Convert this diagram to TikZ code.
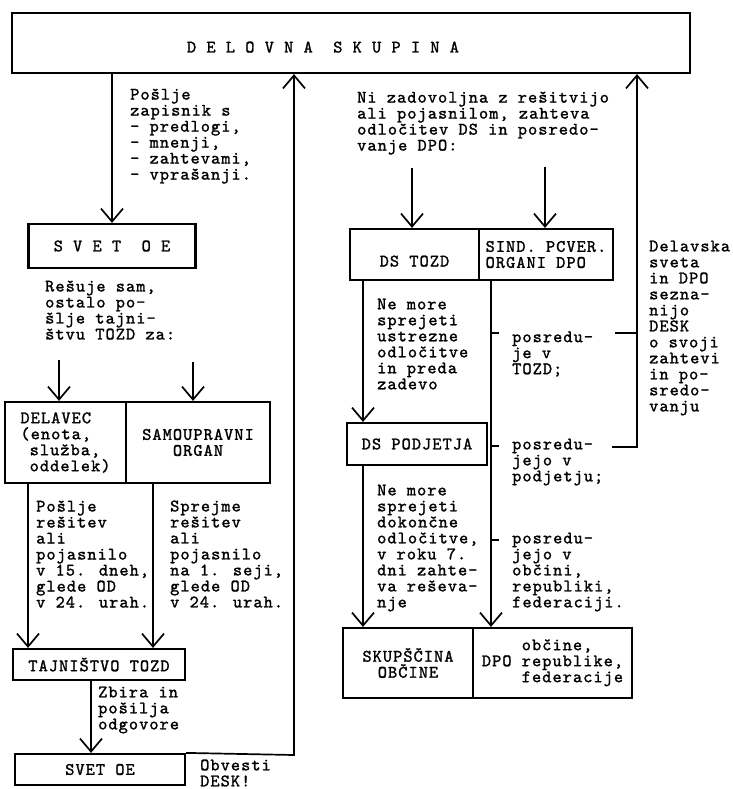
\documentclass[tikz,border=0pt]{standalone}
\usepackage{fontspec}
\newfontfamily\typew{lmmono10-regular.otf}[FakeBold=1.4, LetterSpace=6]
\usetikzlibrary{arrows.meta,positioning}

\tikzset{
  box/.style={draw, line width=2.2pt, inner sep=2pt},
  txt/.style={align=left, anchor=west, inner sep=0pt},
  ln/.style={line width=1.7pt},
  arr/.style={ln, -{Straight Barb[length=13pt,width=22pt]}},
}

\begin{document}
\begin{tikzpicture}[x=1pt, y=-1pt, every node/.style={font=\typew\fontsize{17.5}{16}\selectfont}]
\useasboundingbox (0,0) rectangle (732,789);

% boxes
\node (grp) [box, minimum width=678pt, minimum height=60pt] at (351,43) {\hspace*{-56pt}\raisebox{-9.5pt}[0pt][0pt]{D~E~L~O~V~N~A~~S~K~U~P~I~N~A}};
\node (svet1) [box, minimum width=167pt, minimum height=44pt] at (112,246) {S~V~E~T~~O~E};
\node (delavec) [box, align=left, minimum width=121pt, minimum height=81pt] at (65.5,442.5) {DELAVEC\\(enota,\\\phantom{(}služba,\\\phantom{(}oddelek)};
\node (samo) [box, align=center, minimum width=144pt, minimum height=81pt] at (198,442.5) {SAMOUPRAVNI\\ORGAN};
\node (tajn) [box, minimum width=172pt, minimum height=31pt] at (99,664.5) {TAJNIŠTVO TOZD};
\node (svet2) [box, minimum width=170pt, minimum height=31pt] at (100,769.5) {SVET OE};

\node (dstozd) [box, minimum width=129pt, minimum height=51pt] at (414.5,254.5) {\raisebox{-12pt}[0pt][0pt]{DS TOZD}};
\node (sind) [box, align=left, minimum width=134pt, minimum height=51pt] at (546,254.5) {SIND. PCVER.\\ORGANI DPO};
\node (dspod) [box, minimum width=140pt, minimum height=42pt] at (417,444) {DS PODJETJA};
\node (skup) [box, align=center, minimum width=130pt, minimum height=70pt] at (408,663) {SKUPŠČINA\\OBČINE};
\node (dpo) [box, minimum width=159pt, minimum height=70pt] at (552.5,663) {\begin{tabular}{@{}l@{~}l@{}} & občine,\\ DPO & republike,\\ & federacije\end{tabular}};

% texts
\node (t1) [txt] at (130,136) {Pošlje\\zapisnik s\\- predlogi,\\- mnenji,\\- zahtevami,\\- vprašanji.};
\node (t2) [txt] at (357,123) {Ni zadovoljna z rešitvijo\\ali pojasnilom, zahteva\\odločitev DS in posredo-\\vanje DPO:};
\node (t3) [txt] at (45,310) {Rešuje sam,\\ostalo po-\\šlje tajni-\\štvu TOZD za:};
\node (t4) [txt] at (36,554) {Pošlje\\rešitev\\ali\\pojasnilo\\v 15. dneh,\\glede OD\\v 24. urah.};
\node (t5) [txt] at (170,554) {Sprejme\\rešitev\\ali\\pojasnilo\\na 1. seji,\\glede OD\\v 24. urah.};
\node (t6) [txt] at (98,710) {Zbira in\\pošilja\\odgovore};
\node (t7) [txt] at (200,773) {Obvesti\\DESK!};
\node (t8) [txt] at (377,344) {Ne more\\sprejeti\\ustrezne\\odločitve\\in preda\\zadevo};
\node (t9) [txt] at (512,354) {posredu-\\je v\\TOZD;};
\node (t10) [txt] at (512,462) {posredu-\\jejo v\\podjetju;};
\node (t11) [txt] at (377,548) {Ne more\\sprejeti\\dokončne\\odločitve,\\v roku 7.\\dni zahte-\\va reševa-\\nje};
\node (t12) [txt] at (512,572) {posredu-\\jejo v\\občini,\\republiki,\\federaciji.};
\node (t13) [txt] at (649,328) {Delavska\\sveta\\in DPO\\sezna-\\nijo\\DESK\\o svoji\\zahtevi\\in po-\\sredo-\\vanju};

% left column
\coordinate (d1) at (59,360);
\coordinate (d2) at (193,362);
\coordinate (xL) at (28,0);
\coordinate (xR) at (153,0);
\coordinate (xZ) at (91,0);
\coordinate (ret) at (294,755);
\draw[arr] (grp.south -| svet1.north) -- (svet1.north);
\draw[arr] (d1) -- (d1 |- delavec.north);
\draw[arr] (d2) -- (d2 |- samo.north);
\draw[arr] (delavec.south -| xL) -- (tajn.north -| xL);
\draw[arr] (samo.south -| xR) -- (tajn.north -| xR);
\draw[arr] (tajn.south -| xZ) -- (svet2.north -| xZ);
\draw[arr] (svet2.north east) -- (ret) -- (ret |- grp.south);

% right column
\coordinate (d3) at (412,168);
\coordinate (d4) at (545,167);
\coordinate (xD) at (363,0);
\coordinate (xM) at (491,0);
\coordinate (r0) at (612,447);
\coordinate (r1) at (637,447);
\draw[arr] (d3) -- (d3 |- dstozd.north);
\draw[arr] (d4) -- (d4 |- sind.north);
\draw[arr] (dstozd.south -| xD) -- (dspod.north -| xD);
\draw[arr] (dspod.south -| xD) -- (skup.north -| xD);
\draw[arr] (sind.south -| xM) -- (dpo.north -| xM);
\draw[arr] (r0) -- (r1) -- (r1 |- grp.south);
\draw[ln] (615,333) -- (r1 |- 615,333);
\draw[ln] (491,333) -- ++(8,0);
\draw[ln] (491,446) -- ++(8,0);
\draw[ln] (491,540) -- ++(8,0);
\end{tikzpicture}
\end{document}
